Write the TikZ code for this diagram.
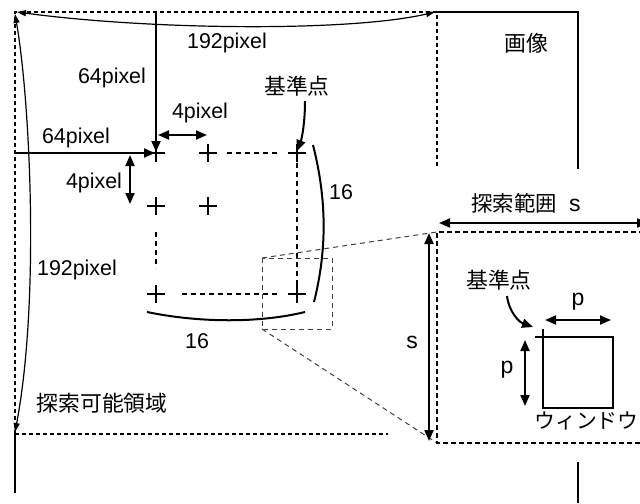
\documentclass[tikz,border=0pt]{standalone}
\usepackage{fontspec}
\setmainfont{Liberation Sans}
\newfontfamily\jpfont{Noto Sans CJK JP}
\usetikzlibrary{arrows.meta}

\begin{document}
\begin{tikzpicture}[x=0.5pt, y=-0.5pt,
    lbl/.style={font=\fontsize{10.7}{12}\selectfont, inner sep=0pt},
    jlbl/.style={font=\fontsize{10.9}{12}\selectfont\jpfont, inner sep=0pt},
    thinarr/.style={{Triangle[length=4.5pt,width=3pt]}-{Triangle[length=4.5pt,width=3pt]}, line width=0.6pt},
    dimarr/.style={-{Triangle[length=5.5pt,width=4.5pt]}, line width=1pt},
    dimboth/.style={{Triangle[length=5.5pt,width=4.5pt]}-{Triangle[length=5.5pt,width=4.5pt]}, line width=1pt},
    areadash/.style={line width=0.7pt, dash pattern=on 2pt off 1.5pt},
    griddash/.style={line width=1pt, dash pattern=on 2.5pt off 2pt},
    boxdash/.style={line width=1.3pt, dash pattern=on 2.5pt off 1.5pt},
    zoomdash/.style={line width=0.5pt, black!75, dash pattern=on 2.5pt off 2pt},
    arc16/.style={line width=1pt},
]
\useasboundingbox (0,0) rectangle (640,503);

% image and search area
\coordinate (imgtl) at (15,12);
\coordinate (imgtr) at (578,12);
\coordinate (areatr) at (437,12);
\coordinate (areabl) at (15,434);
\draw[line width=0.7pt] (areatr) -- (imgtr) -- (578,169);
\draw[line width=0.7pt] (578,462) -- (578,503);
\draw[line width=0.7pt] (areabl) -- (15,493);
\draw[areadash] (areabl) -- (imgtl) -- (areatr) -- (437,169);
\draw[areadash] (areabl) -- (388,434);

\node[jlbl] (img) at (526,43) {画像};
\node[jlbl] (area) at (102,403) {探索可能領域};

% 192pixel
\draw[thinarr] (17,12) .. controls (150,30) and (350,32) .. (435,12);
\draw[thinarr] (15,14) .. controls (30,100) and (40,300) .. (15,432);
\node[lbl] (w192) at (227,43) {192pixel};
\node[lbl] (h192) at (77,270) {192pixel};

% reference points
\coordinate (c1) at (156,153);
\coordinate (c2) at (208,153);
\coordinate (c3) at (297,153);
\coordinate (c4) at (156,206);
\coordinate (c5) at (208,206);
\coordinate (c6) at (156,294);
\coordinate (c7) at (297,294);
\foreach \c in {c1,c2,c3,c4,c5,c6,c7}{
    \draw[line width=1pt] (\c) ++(-9,0) -- ++(18,0);
    \draw[line width=1pt] (\c) ++(0,-9) -- ++(0,18);
}
\draw[griddash] (227,153) -- (277,153);
\draw[griddash] (297,163) -- (297,287);
\draw[griddash] (156,232) -- (156,268);
\draw[griddash] (182,294) -- (277,294);

% 64pixel, 4pixel
\draw[dimarr] (156,12) -- (156,152);
\draw[dimarr] (15,153) -- (155,153);
\node[lbl] (v64) at (112,78) {64pixel};
\node[lbl] (h64) at (76,138) {64pixel};
\draw[dimboth] (158,135) -- (207,135);
\draw[dimboth] (130,155) -- (130,204);
\node[lbl] (h4) at (200,113) {4pixel};
\node[lbl] (v4) at (94,183) {4pixel};

\node[jlbl] (ref1) at (297,86) {基準点};
\draw[dimarr] (305,101) .. controls (305,122) and (302,138) .. (297,151);

% 16 x 16
\draw[arc16] (313,145) .. controls (327,200) and (327,250) .. (314,302);
\draw[arc16] (147,312) .. controls (200,323) and (260,323) .. (305,312);
\node[lbl] (n16r) at (341,192) {16};
\node[lbl] (n16b) at (197,341) {16};

% zoomed search range
\coordinate (ztl) at (262,258);
\coordinate (zbl) at (262,329);
\coordinate (stl) at (437,232);
\coordinate (sbl) at (437,443);
\draw[zoomdash] (ztl) rectangle (332,329);
\draw[zoomdash] (ztl) -- (stl);
\draw[zoomdash] (zbl) -- (sbl);
\draw[boxdash] (660,232) -- (stl) -- (sbl) -- (660,443);

\draw[dimboth] (439,223) -- (648,223);
\node[lbl] (srange) at (526,203) {{\jpfont 探索範囲}\ \ {\fontsize{11.5}{12}\selectfont s}};
\draw[dimboth] (429,233) -- (429,441);
\node[lbl, font=\fontsize{11.5}{12}\selectfont] (sv) at (412,342) {s};

% window
\coordinate (wtl) at (543,337);
\draw[line width=1pt] (wtl) rectangle (613,408);
\draw[line width=1pt] (535,337) -- (wtl) -- (543,329);
\node[jlbl] (ref2) at (499,280) {基準点};
\draw[dimarr] (507,296) .. controls (509,312) and (519,322) .. (533,327);
\draw[dimboth] (545,320) -- (611,320);
\node[lbl, font=\fontsize{11.5}{12}\selectfont] (ph) at (578,302) {p};
\draw[dimboth] (525,340) -- (525,406);
\node[lbl, font=\fontsize{11.5}{12}\selectfont] (pv) at (507,370) {p};
\node[jlbl, font=\fontsize{10.4}{12}\selectfont\jpfont, anchor=west] (win) at (534,421) {ウィンドウ};
\end{tikzpicture}
\end{document}
